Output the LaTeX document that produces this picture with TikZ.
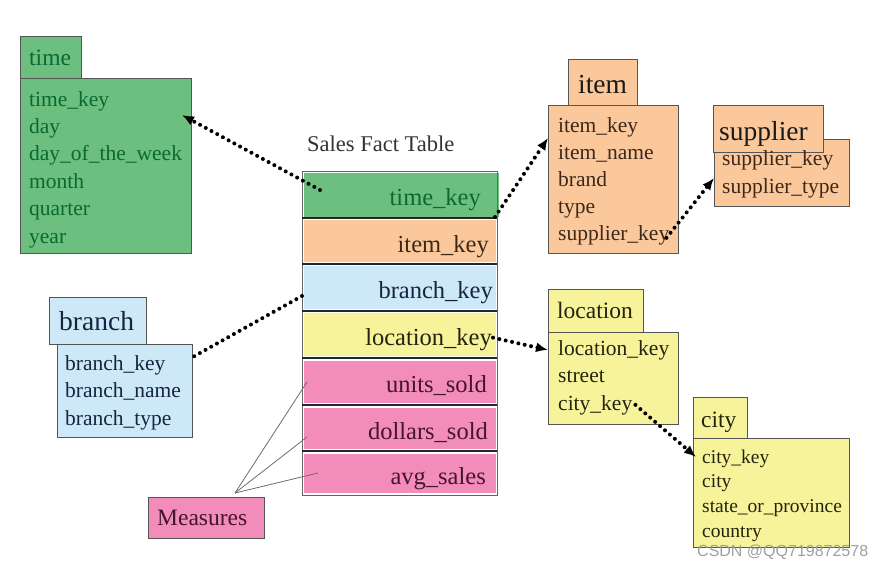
\documentclass[tikz,border=0pt]{standalone}
\usepackage{fontspec}
\setmainfont{Liberation Serif}
\newfontfamily\wmfont{Liberation Sans}
\usetikzlibrary{arrows.meta,calc}
\definecolor{gFill}{RGB}{108,191,127}
\definecolor{oFill}{RGB}{251,200,155}
\definecolor{bFill}{RGB}{205,233,248}
\definecolor{yFill}{RGB}{247,243,154}
\definecolor{pFill}{RGB}{242,141,187}
\definecolor{gText}{RGB}{10,105,48}
\definecolor{oText}{RGB}{60,40,25}
\definecolor{bText}{RGB}{25,35,65}
\definecolor{yText}{RGB}{35,35,15}
\definecolor{pText}{RGB}{70,20,45}
\definecolor{boxLine}{RGB}{85,85,85}
\newcommand\fsBody{\fontsize{21.5}{26}\selectfont}
\newcommand\fsHead{\fontsize{23.5}{26}\selectfont}
\newcommand\fsBig{\fontsize{27.5}{30}\selectfont}
\newcommand\fsFact{\fontsize{24.5}{28}\selectfont}
\newcommand\fsCity{\fontsize{19.5}{24}\selectfont}
\tikzset{
  box/.style={draw=boxLine, line width=1pt, anchor=north west, inner sep=0pt, outer sep=0pt},
  rowfill/.style={anchor=north west, inner sep=0pt, outer sep=0pt, minimum width=192},
  fld/.style={anchor=base west, inner sep=0pt, font=\fsBody},
  hd/.style={anchor=base west, inner sep=0pt},
  facttxt/.style={anchor=base east, inner sep=0pt, font=\fsFact},
  dotarrow/.style={line width=4pt, dash pattern=on 0pt off 6.5pt, line cap=round, -{Latex[length=12pt,width=10pt]}},
  dotline/.style={line width=4pt, dash pattern=on 0pt off 6.5pt, line cap=round},
  measline/.style={draw=gray!85!black, line width=0.8pt},
  sepline/.style={draw=black!85, line width=1.4pt}
}
\begin{document}
\begin{tikzpicture}[x=1pt,y=-1pt]
\useasboundingbox (0,0) rectangle (886,568);

% ---------- time ----------
\node[box,fill=gFill,minimum width=171,minimum height=175] (timeBody) at (20,78) {};
\node[box,fill=gFill,minimum width=61,minimum height=42] (timeTab) at (20,36) {};
\node[hd,text=gText,font=\fsHead] (timeTitle) at (29,65) {time};
\foreach \t [count=\i] in {time\_key,day,day\_of\_the\_week,month,quarter,year}
  \node[fld,text=gText] (timeF\i) at (29,{106+(\i-1)*27.4}) {\t};

% ---------- branch ----------
\node[box,fill=bFill,minimum width=135,minimum height=93] (branchBody) at (57,344) {};
\node[box,fill=bFill,minimum width=97,minimum height=47] (branchTab) at (49,297) {};
\node[hd,text=bText,font=\fsBig] (branchTitle) at (59,330) {branch};
\foreach \t [count=\i] in {branch\_key,branch\_name,branch\_type}
  \node[fld,text=bText] (branchF\i) at (65,{370+(\i-1)*27.5}) {\t};

% ---------- Measures ----------
\node[box,fill=pFill,minimum width=116,minimum height=41] (measBox) at (148,497) {};
\node[hd,text=pText,font=\fsHead] (measText) at (157,525) {Measures};

% ---------- Sales Fact Table ----------
\node[hd,font=\fontsize{22.5}{26}\selectfont,text=black!80] (factTitle) at (307,151) {Sales Fact Table};
\node[rowfill,fill=gFill,minimum width=195,minimum height=44] (factR1) at (304,173) {};
\node[rowfill,fill=oFill,minimum height=42] (factR2) at (304,220) {};
\node[rowfill,fill=bFill,minimum height=43] (factR3) at (304,266) {};
\node[rowfill,fill=yFill,minimum height=43] (factR4) at (304,313) {};
\node[rowfill,fill=pFill,minimum height=42] (factR5) at (304,361) {};
\node[rowfill,fill=pFill,minimum height=41] (factR6) at (304,408) {};
\node[rowfill,fill=pFill,minimum height=39] (factR7) at (304,454) {};
\node[box,draw=gray!80!black,minimum width=195,minimum height=324] (factBox) at (302,171) {};
\foreach \yy in {218,264,311,358,405,451}
  \draw[sepline] (302,\yy) -- (497,\yy);
\node[facttxt,text=gText] (factT1) at (481,205.5) {time\_key};
\node[facttxt,text=oText] (factT2) at (489,252) {item\_key};
\node[facttxt,text=bText] (factT3) at (493,298.5) {branch\_key};
\node[facttxt,text=yText] (factT4) at (492,345.5) {location\_key};
\node[facttxt,text=pText] (factT5) at (487,392.5) {units\_sold};
\node[facttxt,text=pText] (factT6) at (488,439) {dollars\_sold};
\node[facttxt,text=pText] (factT7) at (486,484) {avg\_sales};

% ---------- item ----------
\node[box,fill=oFill,minimum width=130,minimum height=148] (itemBody) at (548,105) {};
\node[box,fill=oFill,minimum width=69,minimum height=46] (itemTab) at (568,59) {};
\node[hd,text=black!90,font=\fsBig] (itemTitle) at (578,93) {item};
\foreach \t [count=\i] in {item\_key,item\_name,brand,type,supplier\_key}
  \node[fld,text=oText] (itemF\i) at (558,{132+(\i-1)*27}) {\t};

% ---------- supplier ----------
\node[box,fill=oFill,minimum width=135,minimum height=67] (supBody) at (714,139) {};
\node[box,fill=oFill,minimum width=110,minimum height=47] (supTab) at (713,105) {};
\node[hd,text=black!90,font=\fsBig] (supTitle) at (719,140) {supplier};
\foreach \t [count=\i] in {supplier\_key,supplier\_type}
  \node[fld,text=oText] (supF\i) at (722,{165+(\i-1)*28}) {\t};

% ---------- location ----------
\node[box,fill=yFill,minimum width=130,minimum height=92] (locBody) at (548,332) {};
\node[box,fill=yFill,minimum width=95,minimum height=43] (locTab) at (548,289) {};
\node[hd,text=yText,font=\fsHead] (locTitle) at (557,318) {location};
\foreach \t [count=\i] in {location\_key,street,city\_key}
  \node[fld,text=yText] (locF\i) at (558,{355+(\i-1)*27.5}) {\t};

% ---------- city ----------
\node[box,fill=yFill,minimum width=156,minimum height=109] (cityBody) at (693,438) {};
\node[box,fill=yFill,minimum width=54,minimum height=41] (cityTab) at (693,397) {};
\node[hd,text=yText,font=\fsHead] (cityTitle) at (701,427) {city};
\foreach \t [count=\i] in {city\_key,city,state\_or\_province,country}
  \node[fld,text=yText,font=\fsCity] (cityF\i) at (702,{463+(\i-1)*24.7}) {\t};

% ---------- connectors ----------
\coordinate (cTimeS) at ($(factR1.north west)+(16,17)$);
\coordinate (cTimeE) at ($(timeBody.north east)+(-9,37)$);
\draw[dotarrow] (cTimeS) -- (cTimeE);

\coordinate (cItemS) at ($(factR1.south east)+(-4,0)$);
\coordinate (cItemE) at ($(itemBody.north west)+(0,33)$);
\draw[dotarrow] (cItemS) -- (cItemE);

\coordinate (cSupS) at ($(itemF5.east)+(-3,3)$);
\coordinate (cSupE) at ($(supBody.north west)+(0,39)$);
\draw[dotarrow] (cSupS) -- (cSupE);

\coordinate (cLocS) at ($(factT4.east)+(1,-2)$);
\coordinate (cLocE) at ($(locBody.north west)+(0,18)$);
\draw[dotarrow] (cLocS) -- (cLocE);

\coordinate (cCityS) at ($(locF3.east)+(3,0)$);
\coordinate (cCityE) at ($(cityBody.north west)+(3,19)$);
\draw[dotarrow] (cCityS) -- (cCityE);

\coordinate (cBrS) at ($(factBox.north west)+(0,125)$);
\coordinate (cBrE) at ($(branchBody.north east)+(-1,14)$);
\draw[dotline] (cBrS) -- (cBrE);

\coordinate (mJoin) at ($(measBox.north)+(29,-4)$);
\coordinate (mU) at (307,382);
\coordinate (mD) at (307,437);
\coordinate (mA) at (318,473);
\draw[measline] (mJoin) -- (mU);
\draw[measline] (mJoin) -- (mD);
\draw[measline] (mJoin) -- (mA);

% ---------- watermark ----------
\node[anchor=base west, inner sep=0pt, text=gray!75, font=\wmfont\fontsize{16}{18}\selectfont] (wm) at (697,556) {CSDN @QQ719872578};
\end{tikzpicture}
\end{document}
